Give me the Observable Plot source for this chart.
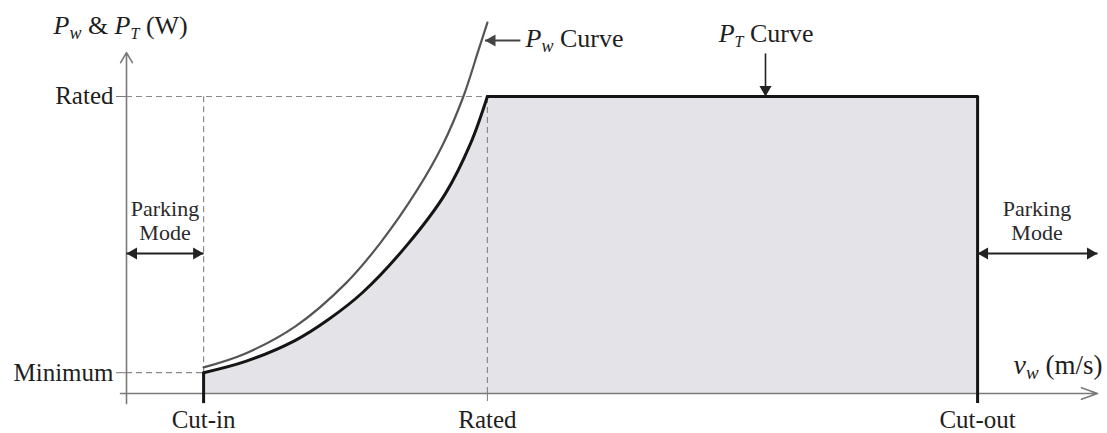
<!DOCTYPE html>
<html><head><meta charset="utf-8">
<script src="https://cdn.jsdelivr.net/npm/d3@7"></script>
<script src="https://cdn.jsdelivr.net/npm/@observablehq/plot@0.6"></script>
<style>body{margin:0;background:#fff}#chart svg{display:block}</style>
</head><body><div id="chart"></div>
<script>
// ---- data (normalised units: speed ~ m/s, power as fraction of rated) ----
const xTickLabels = ["Cut-in", "Rated", "Cut-out"];
const xTickValues = [2.57, 12.03, 28.37];
const yTickLabels = ["Minimum", "Rated"];
const yTickValues = [0.07, 1.0];
// P_T (turbine output) rising part
const ptSpeed = [2.57, 3.97, 5.63, 6.73, 7.87, 9.37, 10.63, 11.47, 12.03];
const ptPower = [0.07, 0.108, 0.179, 0.249, 0.340, 0.502, 0.673, 0.842, 1.0];
// P_w (wind power) curve
const pwSpeed = [2.57, 3.97, 5.63, 7.30, 8.47, 9.70, 10.53, 11.23, 11.73, 12.03];
const pwPower = [0.088, 0.135, 0.226, 0.370, 0.508, 0.687, 0.835, 1.0, 1.155, 1.249];
const parkingLabel = "Parking\nMode";

// ---- layout constants ----
const serif = '"Liberation Serif", "Times New Roman", serif';
const xAxisStart = -0.2, xAxisEnd = 32.367, yAxisStart = -0.034, yAxisEnd = 1.148;
const [cutIn, ratedSpeed, cutOut] = xTickValues;
const [minPower, ratedPower] = yTickValues;
const pt = ptSpeed.map((x, i) => ({x, y: ptPower[i]}));
const pw = pwSpeed.map((x, i) => ({x, y: pwPower[i]}));
const flat = [{x: ratedSpeed, y: ratedPower}, {x: cutOut, y: ratedPower}];
const xLabel = new Map(xTickValues.map((v, i) => [v, xTickLabels[i]]));
const yLabel = new Map(yTickValues.map((v, i) => [v, yTickLabels[i]]));

const ctx = document.createElement("canvas").getContext("2d");
function measure(t, size, italic) {
  ctx.font = `${italic ? "italic " : ""}${size}px "Liberation Serif"`;
  return ctx.measureText(t).width;
}
function richText(x, y, parts, anchor) {
  const widths = parts.map(p => measure(p.t, p.size, p.italic));
  const total = d3.sum(widths);
  let off = anchor === "middle" ? -total / 2 : anchor === "end" ? -total : 0;
  const marks = [];
  parts.forEach((p, i) => {
    const lead = p.t.length - p.t.trimStart().length;
    const leadW = lead ? measure(p.t.slice(0, lead), p.size, p.italic) : 0;
    const txt = p.t.trim();
    marks.push(Plot.text([{x, y}], {
      x: "x", y: "y", text: () => txt, textAnchor: "start", lineAnchor: "bottom",
      dx: off + leadW, dy: p.sub ? 5 : 0, fontSize: p.size,
      fontStyle: p.italic ? "italic" : "normal", fontFamily: serif, fill: "#1e1e1e"
    }));
    off += widths[i];
  });
  return marks;
}
function arrowHead(x, y, rotate, r, dx, dy, fill) {
  return Plot.dot([{x, y}], {x: "x", y: "y", symbol: "triangle", r, rotate, fill, stroke: "none", dx, dy});
}

const dash = {stroke: "#8a8a8a", strokeDasharray: "6,4", strokeWidth: 1.2};
const axisStroke = "#7a7a7a";

const chart = Plot.plot({
  width: 1107, height: 433,
  marginLeft: 126, marginRight: 10, marginTop: 0, marginBottom: 40,
  x: {domain: [0, xAxisEnd]},
  y: {domain: [0, 1.3232]},
  style: {fontFamily: serif, background: "#fff", overflow: "visible", color: "#1e1e1e"},
  marks: [
    Plot.areaY(pt, {x: "x", y: "y", curve: "catmull-rom", fill: "#e4e4e8"}),
    Plot.areaY(flat, {x: "x", y: "y", fill: "#e4e4e8"}),
    // guides
    Plot.ruleY([ratedPower], {x1: 0, x2: ratedSpeed, ...dash}),
    Plot.ruleY([minPower], {x1: 0, x2: cutIn, ...dash}),
    Plot.ruleX([cutIn], {y1: minPower, y2: ratedPower, ...dash}),
    Plot.ruleX([ratedSpeed], {y1: 0, y2: ratedPower, ...dash}),
    // axes with arrows
    Plot.arrow([{x1: xAxisStart, x2: xAxisEnd, y1: 0, y2: 0}], {x1: "x1", x2: "x2", y1: "y1", y2: "y2", stroke: axisStroke, strokeWidth: 1.6, headLength: 16, headAngle: 40}),
    Plot.arrow([{x1: 0, x2: 0, y1: yAxisStart, y2: yAxisEnd}], {x1: "x1", x2: "x2", y1: "y1", y2: "y2", stroke: axisStroke, strokeWidth: 1.6, headLength: 11, headAngle: 60}),
    Plot.axisX(xTickValues, {tickFormat: d => xLabel.get(d), tickSize: 8, tickPadding: 9, fontSize: 25, fontFamily: serif, stroke: axisStroke, fill: "#1e1e1e", label: null}),
    Plot.axisY(yTickValues, {tickFormat: d => yLabel.get(d), tickSize: 10, tickPadding: 3, fontSize: 25, fontFamily: serif, stroke: axisStroke, fill: "#1e1e1e", label: null}),
    // curves
    Plot.line(pw, {x: "x", y: "y", curve: "catmull-rom", stroke: "#555", strokeWidth: 2.2}),
    Plot.line(pt, {x: "x", y: "y", curve: "catmull-rom", stroke: "#151515", strokeWidth: 3}),
    Plot.line(flat, {x: "x", y: "y", stroke: "#151515", strokeWidth: 3}),
    Plot.ruleX([cutIn], {y1: yAxisStart, y2: minPower, stroke: "#151515", strokeWidth: 3}),
    Plot.ruleX([cutOut], {y1: yAxisStart, y2: ratedPower, stroke: "#151515", strokeWidth: 3}),
    // parking mode annotations
    Plot.text([{x: 1.283, y: 0.5825}], {x: "x", y: "y", text: () => parkingLabel, fontSize: 22, lineHeight: 1.1, fontFamily: serif, fill: "#2a2a2a"}),
    Plot.text([{x: 30.35, y: 0.5825}], {x: "x", y: "y", text: () => parkingLabel, fontSize: 22, lineHeight: 1.1, fontFamily: serif, fill: "#2a2a2a"}),
    Plot.link([{x1: 0, x2: cutIn, y: 0.4714}], {x1: "x1", x2: "x2", y1: "y", y2: "y", stroke: "#222", strokeWidth: 1.8}),
    arrowHead(0, 0.4714, -90, 4.5, 7, 0, "#222"),
    arrowHead(cutIn, 0.4714, 90, 4.5, -7, 0, "#222"),
    Plot.link([{x1: cutOut, x2: xAxisEnd, y: 0.4714}], {x1: "x1", x2: "x2", y1: "y", y2: "y", stroke: "#222", strokeWidth: 1.8}),
    arrowHead(cutOut, 0.4714, -90, 4.5, 7, 0, "#222"),
    arrowHead(xAxisEnd, 0.4714, 90, 4.5, -7, 0, "#222"),
    // curve labels
    Plot.link([{x1: 13.13, x2: 11.95, y: 1.1886}], {x1: "x1", x2: "x2", y1: "y", y2: "y", stroke: "#444", strokeWidth: 1.8}),
    arrowHead(11.95, 1.1886, -90, 4.5, 7, 0, "#444"),
    ...richText(13.3, 1.165, [{t: "P", size: 26, italic: true}, {t: "w", size: 18, italic: true, sub: true}, {t: " Curve", size: 26}], "start"),
    Plot.link([{x: 21.3, y1: 1.145, y2: ratedPower}], {x1: "x", x2: "x", y1: "y1", y2: "y2", stroke: "#222", strokeWidth: 1.6}),
    arrowHead(21.3, ratedPower, 180, 4.5, 0, -7, "#222"),
    ...richText(21.32, 1.182, [{t: "P", size: 26, italic: true}, {t: "T", size: 16, italic: true, sub: true}, {t: " Curve", size: 26}], "middle"),
    // axis titles
    ...richText(-2.433, 1.212, [{t: "P", size: 26, italic: true}, {t: "w", size: 18, italic: true, sub: true}, {t: " & ", size: 26}, {t: "P", size: 26, italic: true}, {t: "T", size: 16, italic: true, sub: true}, {t: " (W)", size: 26}], "start"),
    ...richText(32.53, 0.0673, [{t: "v", size: 28, italic: true}, {t: "w", size: 19, italic: true, sub: true}, {t: " (m/s)", size: 27}], "end")
  ]
});
document.getElementById("chart").append(chart);
</script>
</body></html>
